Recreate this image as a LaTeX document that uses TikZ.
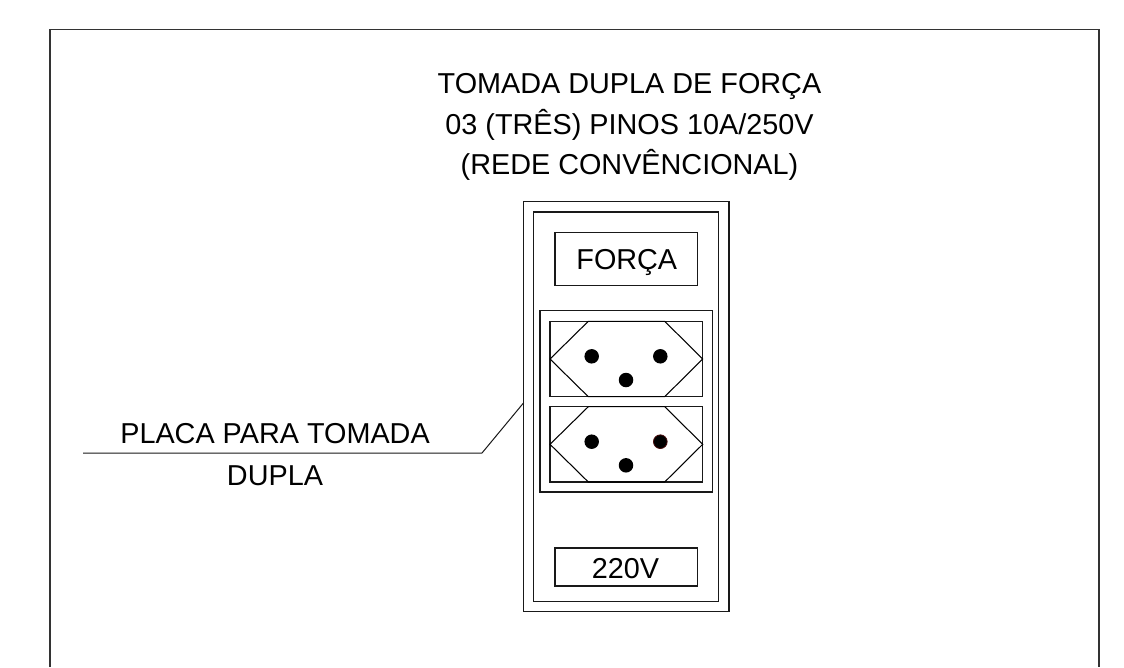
\documentclass[tikz,border=0pt]{standalone}
\usepackage{fontspec}
\setmainfont{Liberation Sans}
\tikzset{
  x=1pt,y=-1pt,
  ln/.style={draw=black!90,line width=1.05pt},
  box/.style={ln,fill=none},
  hexa/.style={draw=black,line width=1.05pt,line join=miter},
  pin/.style={circle,fill=black,draw=none,inner sep=0pt,minimum size=14.5pt},
  lbl/.style={font=\fontsize{28.8}{28.8}\selectfont,inner sep=0pt,text=black,anchor=base},
}
\begin{document}
\begin{tikzpicture}
\useasboundingbox (0,0) rectangle (1124,667);
\fill[white] (0,0) rectangle (1124,667);
% frame, open at the bottom
\draw[line width=1.4pt,black!80] (50,667) -- (50,29.5) -- (1099,29.5) -- (1099,667);
% plate outlines
\draw[box] (523.7,201.7) rectangle (729,611.7);
\draw[box] (533.7,212) rectangle (718.7,601.3);
\draw[box] (555,232.7) rectangle (697.5,285.3);
\draw[box] (540,310.7) rectangle (712.3,492);
\draw[box] (555,548) rectangle (697.5,586);
% socket 1
\draw[box] (550,321.3) rectangle (702.7,396.7);
\draw[hexa] (550,359) -- (588.3,321.3) -- (664.7,321.3) -- (702.7,359) -- (664.7,396.7) -- (588.3,396.7) -- cycle;
\node[pin] (p1a) at (591.7,356.3) {};
\node[pin] (p1b) at (660.3,356.3) {};
\node[pin] (p1c) at (626,380) {};
% socket 2
\draw[box] (550,406.7) rectangle (702.7,482);
\draw[hexa] (550,444.3) -- (588.3,406.7) -- (664.7,406.7) -- (702.7,444.3) -- (664.7,482) -- (588.3,482) -- cycle;
\node[pin] (p2a) at (591.7,441.7) {};
\node[pin,draw={rgb,255:red,70;green,10;blue,10},line width=.8pt,minimum size=13.7pt] (p2b) at (660.3,441.7) {};
\node[pin] (p2c) at (626,465.3) {};
% leader
\coordinate (la) at (83,453);
\coordinate (lb) at (482,453);
\coordinate (lc) at (523.7,402.7);
\draw[line width=1pt,black!90] (la) -- (lb) -- (lc);
% texts
\node[lbl] (t1) at (629.5,93.7) {TOMADA DUPLA DE FORÇA};
\node[lbl] (t2) at (629.5,134.5) {03 (TRÊS) PINOS 10A/250V};
\node[lbl] (t3) at (629.5,174.2) {(REDE CONVÊNCIONAL)};
\node[lbl] (force) at (626.8,269) {FORÇA};
\node[lbl] (v220) at (625.5,578) {220V};
\node[lbl] (pl1) at (275,443.5) {PLACA PARA TOMADA};
\node[lbl] (pl2) at (275,485) {DUPLA};
\end{tikzpicture}
\end{document}
